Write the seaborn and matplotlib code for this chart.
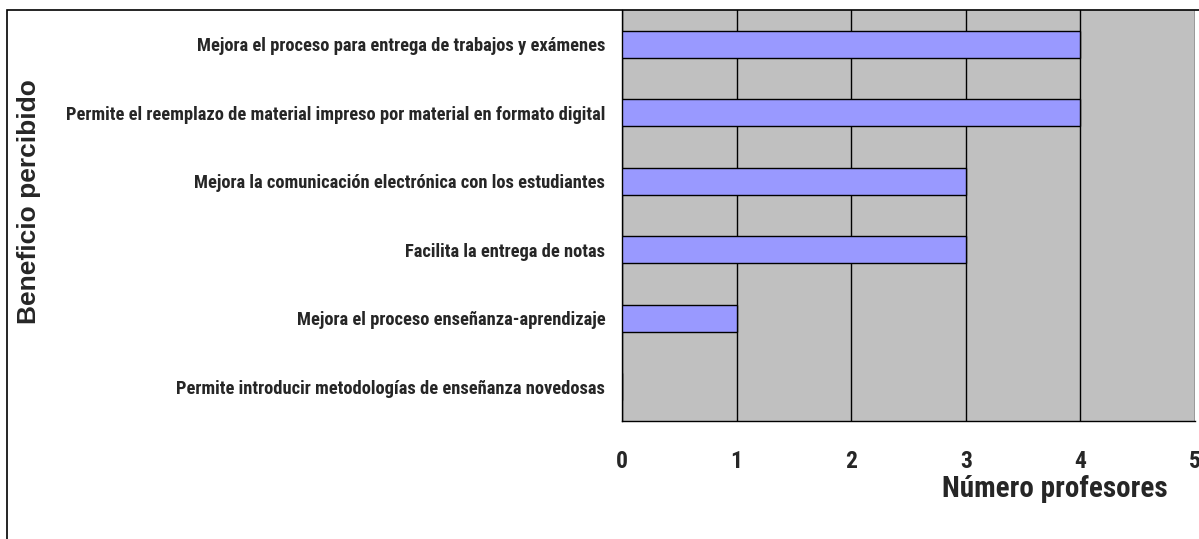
import matplotlib
matplotlib.use("Agg")
import matplotlib.pyplot as plt
from matplotlib.patches import Rectangle
import seaborn as sns
import pandas as pd

# chart data
beneficios = [
    "Mejora el proceso para entrega de trabajos y exámenes",
    "Permite el reemplazo de material impreso por material en formato digital",
    "Mejora la comunicación electrónica con los estudiantes",
    "Facilita la entrega de notas",
    "Mejora el proceso enseñanza-aprendizaje",
    "Permite introducir metodologías de enseñanza novedosas",
]
profesores = [4, 4, 3, 3, 1, 0]
x_ticks = [0, 1, 2, 3, 4, 5]

df = pd.DataFrame({"beneficio": beneficios, "profesores": profesores})

narrow = ["Roboto Condensed", "PT Sans Narrow", "DejaVu Sans"]

sns.set_style("white")
plt.rcParams["font.family"] = ["Liberation Sans", "DejaVu Sans"]

fig = plt.figure(figsize=(11.99, 5.39), dpi=100)
ax = fig.add_axes([622 / 1199, 1 - 421 / 539, (1195 - 622) / 1199, (421 - 10) / 539])
ax.set_facecolor("#C0C0C0")

sns.barplot(data=df, y="beneficio", x="profesores", orient="h", color="#9999FF",
            edgecolor="black", linewidth=1, width=0.39, saturation=1, ax=ax, zorder=3)

ax.set_xlim(0, 5)
ax.set_ylim(len(beneficios) - 0.5, -0.5)
ax.set_xticks(x_ticks)
ax.set_xticklabels([str(t) for t in x_ticks], fontfamily=narrow, fontweight="bold", fontsize=17)
ax.tick_params(axis="x", direction="out", length=7, width=1, color="black", pad=14)

ax.set_yticks(range(len(beneficios)))
ax.set_yticklabels(beneficios, fontfamily=narrow, fontweight="bold", fontsize=13.3)
ax.tick_params(axis="y", which="major", length=0, pad=12)
ax.set_yticks([i - 0.5 for i in range(len(beneficios) + 1)], minor=True)
ax.tick_params(axis="y", which="minor", direction="out", length=4.5, width=1, color="black")

ax.xaxis.grid(True, color="black", linewidth=1, zorder=1)
ax.yaxis.grid(False)
ax.set_axisbelow(True)

for side in ["left", "bottom"]:
    ax.spines[side].set_color("black")
    ax.spines[side].set_linewidth(1)
ax.spines["top"].set_visible(False)
ax.spines["right"].set_visible(False)

ax.set_xlabel("")
ax.set_ylabel("")
fig.text(1055 / 1199, 1 - 489 / 539, "Número profesores", ha="center", va="center",
         fontfamily=narrow, fontweight="bold", fontsize=21)
fig.text(29 / 1199, 1 - 202 / 539, "Beneficio percibido", ha="center", va="center",
         rotation=90, fontweight="bold", fontsize=19)

# outer chart frame
fig.patches.append(Rectangle((7 / 1199, -0.2), 1.2, 1 - 10 / 539 + 0.2, transform=fig.transFigure,
                             fill=False, edgecolor="black", linewidth=1.2))

fig.savefig("out.png", dpi=100)
